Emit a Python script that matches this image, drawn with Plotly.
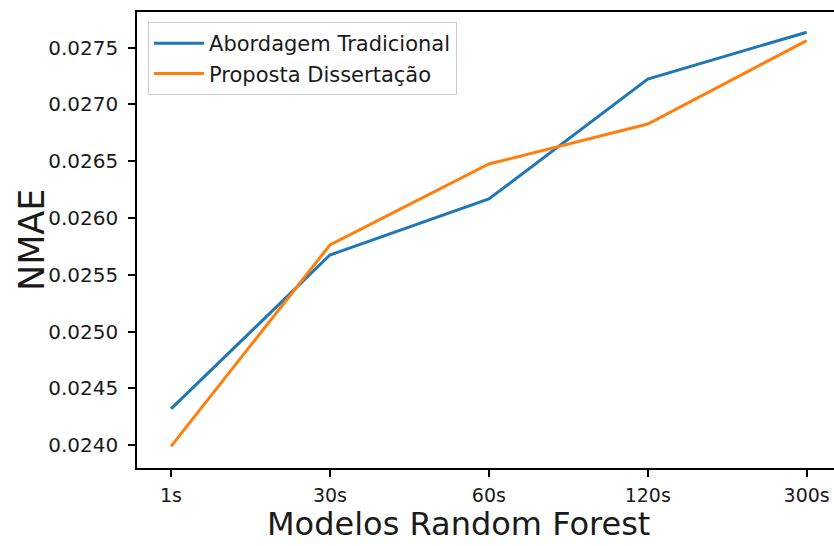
import plotly.graph_objects as go

# Random Forest models by aggregation window
modelos = ["1s", "30s", "60s", "120s", "300s"]
nmae_tradicional = [0.02432, 0.025675, 0.026168, 0.027224, 0.027636]
nmae_proposta = [0.02399, 0.025763, 0.026476, 0.026828, 0.027562]
y_ticks = [0.0240, 0.0245, 0.0250, 0.0255, 0.0260, 0.0265, 0.0270, 0.0275]

FONT = "DejaVu Sans"
TXT = "#1a1a1a"

fig = go.Figure()
fig.add_trace(go.Scatter(
    x=modelos, y=nmae_tradicional, mode="lines",
    name="Abordagem Tradicional",
    line=dict(color="#1f77b4", width=3),
))
fig.add_trace(go.Scatter(
    x=modelos, y=nmae_proposta, mode="lines",
    name="Proposta Dissertação",
    line=dict(color="#ff7f0e", width=3),
))

fig.update_layout(
    width=834, height=546,
    margin=dict(l=137, r=0, t=12, b=78),
    paper_bgcolor="white", plot_bgcolor="white",
    font=dict(family=FONT, size=20, color=TXT),
    showlegend=True,
    legend=dict(
        x=0.0158, y=0.978, xanchor="left", yanchor="top",
        bgcolor="rgba(255,255,255,0.8)", bordercolor="#cccccc", borderwidth=1,
        font=dict(family=FONT, size=21, color=TXT),
        itemwidth=50, tracegroupgap=0,
    ),
    xaxis=dict(
        type="category", range=[-0.214, 4.172],
        showgrid=False, zeroline=False,
        showline=True, linecolor="black", linewidth=1.6, mirror=True,
        ticks="outside", ticklen=7, tickwidth=1.6, tickcolor="black",
        tickfont=dict(family=FONT, size=19, color=TXT),
        ticklabelstandoff=2,
    ),
    yaxis=dict(
        range=[0.02380, 0.027814],
        tickvals=y_ticks, tickformat=".4f",
        showgrid=False, zeroline=False,
        showline=True, linecolor="black", linewidth=1.6, mirror=False,
        ticks="outside", ticklen=7, tickwidth=1.6, tickcolor="black",
        tickfont=dict(family=FONT, size=20, color=TXT),
        ticklabelstandoff=6,
    ),
    annotations=[
        dict(text="Modelos Random Forest", xref="paper", yref="paper",
             x=0.4606, y=-0.1689, xanchor="center", yanchor="bottom",
             showarrow=False, font=dict(family=FONT, size=32, color=TXT)),
        dict(text="NMAE", xref="paper", yref="paper",
             x=-0.1506, y=0.5, xanchor="center", yanchor="middle",
             textangle=-90, showarrow=False,
             font=dict(family=FONT, size=35, color=TXT)),
    ],
)

fig.write_html("out.html")
